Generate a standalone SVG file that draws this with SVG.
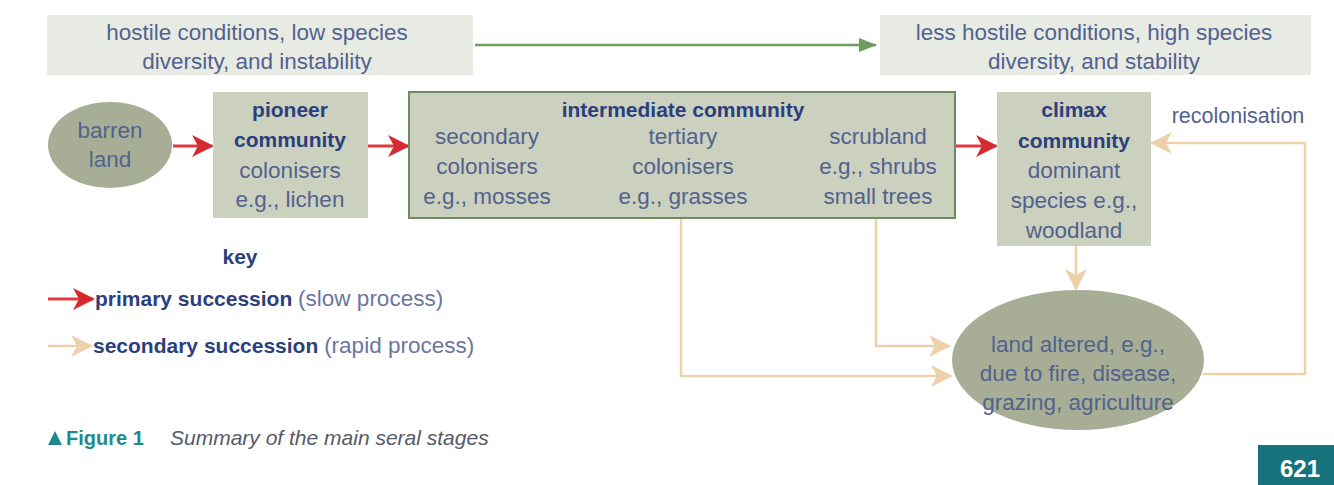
<svg xmlns="http://www.w3.org/2000/svg" width="1334" height="485" viewBox="0 0 1334 485">
<defs>
<style>
.t{font-family:"Liberation Sans",Arial,sans-serif;font-size:22.5px;fill:#52628e;text-anchor:middle}
.b{font-family:"Liberation Sans",Arial,sans-serif;font-size:21px;font-weight:bold;fill:#2b3f7c;text-anchor:middle}
.n{font-weight:normal;fill:#6a76a0;font-size:22.5px}
.box{fill:#ccd0bf}
.top{fill:#e8ebe3}
.red{stroke:#e03a3e;stroke-width:3;fill:none}
.tan{stroke:#ecd1ab;stroke-width:2.5;fill:none}
.grn{stroke:#6e9c5e;stroke-width:2.5;fill:none}
</style>
<marker id="mr" viewBox="0 0 22 22" refX="20" refY="11" markerWidth="22" markerHeight="22" markerUnits="userSpaceOnUse" orient="auto">
<path d="M0,0 L22,11 L0,22 L6,11 Z" fill="#d42a30"/>
</marker>
<marker id="mt" viewBox="0 0 22 22" refX="20" refY="11" markerWidth="22" markerHeight="22" markerUnits="userSpaceOnUse" orient="auto">
<path d="M0,0 L22,11 L0,22 L6,11 Z" fill="#ecd1ab"/>
</marker>
<marker id="mg" viewBox="0 0 18 14" refX="17" refY="7" markerWidth="18" markerHeight="14" markerUnits="userSpaceOnUse" orient="auto">
<path d="M0,0 L18,7 L0,14 Z" fill="#6e9c5e"/>
</marker>
</defs>
<rect width="1334" height="485" fill="#ffffff"/>

<g id="connectors">
<line class="grn" x1="475" y1="45" x2="876" y2="45" marker-end="url(#mg)"/>
<line class="red" x1="173" y1="146" x2="212" y2="146" marker-end="url(#mr)"/>
<line class="red" x1="368" y1="146" x2="408" y2="146" marker-end="url(#mr)"/>
<line class="red" x1="956" y1="146" x2="996" y2="146" marker-end="url(#mr)"/>
<line class="tan" x1="1076" y1="246" x2="1076" y2="289" marker-end="url(#mt)"/>
<polyline class="tan" points="681,219 681,376 951,376" marker-end="url(#mt)"/>
<polyline class="tan" points="876,219 876,346 949,346" marker-end="url(#mt)"/>
<polyline class="tan" points="1203,374 1305,374 1305,143 1152,143" marker-end="url(#mt)"/>
</g>

<g id="top-left">
<rect class="top" x="47" y="15" width="426" height="60"/>
<text class="t" x="257" y="40">hostile conditions, low species</text>
<text class="t" x="257" y="69">diversity, and instability</text>
</g>
<g id="top-right">
<rect class="top" x="880" y="15" width="431" height="60"/>
<text class="t" x="1094" y="40">less hostile conditions, high species</text>
<text class="t" x="1094" y="69">diversity, and stability</text>
</g>

<g id="barren-land">
<ellipse cx="110" cy="145" rx="62" ry="43" fill="#a8ae95"/>
<text class="t" x="110" y="138">barren</text>
<text class="t" x="110" y="167">land</text>
</g>

<g id="pioneer">
<rect class="box" x="213" y="92" width="155" height="126"/>
<text class="b" x="290" y="117">pioneer</text>
<text class="b" x="290" y="147">community</text>
<text class="t" x="290" y="178">colonisers</text>
<text class="t" x="290" y="207">e.g., lichen</text>
</g>

<g id="intermediate">
<rect class="box" x="409" y="92" width="546" height="126" stroke="#6f8a5f" stroke-width="2"/>
<text class="b" x="683" y="117">intermediate community</text>
<text class="t" x="487" y="144">secondary</text>
<text class="t" x="487" y="174">colonisers</text>
<text class="t" x="487" y="204">e.g., mosses</text>
<text class="t" x="683" y="144">tertiary</text>
<text class="t" x="683" y="174">colonisers</text>
<text class="t" x="683" y="204">e.g., grasses</text>
<text class="t" x="878" y="144">scrubland</text>
<text class="t" x="878" y="174">e.g., shrubs</text>
<text class="t" x="878" y="204">small trees</text>
</g>

<g id="climax">
<rect class="box" x="997" y="92" width="154" height="154"/>
<text class="b" x="1074" y="117">climax</text>
<text class="b" x="1074" y="148">community</text>
<text class="t" x="1074" y="178">dominant</text>
<text class="t" x="1074" y="208">species e.g.,</text>
<text class="t" x="1074" y="238">woodland</text>
</g>

<g id="recolonisation-label">
<text class="t" x="1238" y="123" style="font-size:21.5px">recolonisation</text>
</g>

<g id="land-altered">
<ellipse cx="1078" cy="360" rx="126" ry="70" fill="#a8ae95"/>
<text class="t" x="1078" y="352">land altered, e.g.,</text>
<text class="t" x="1078" y="381">due to fire, disease,</text>
<text class="t" x="1078" y="410">grazing, agriculture</text>
</g>

<g id="key">
<text class="b" x="240" y="264">key</text>
<line class="red" x1="48" y1="299" x2="93" y2="299" marker-end="url(#mr)"/>
<text class="b" x="95" y="306" style="text-anchor:start">primary succession <tspan class="n">(slow process)</tspan></text>
<line class="tan" x1="48" y1="346" x2="91" y2="346" marker-end="url(#mt)"/>
<text class="b" x="93" y="353" style="text-anchor:start">secondary succession <tspan class="n">(rapid process)</tspan></text>
</g>

<g id="caption">
<polygon points="48,445 55,431 62,445" fill="#1f8a8e"/>
<text x="66" y="445" style="font-family:'Liberation Sans',Arial,sans-serif;font-size:20px;font-weight:bold;fill:#1f8a8e">Figure 1</text>
<text x="170" y="445" style="font-family:'Liberation Sans',Arial,sans-serif;font-size:21px;font-style:italic;fill:#555b6a">Summary of the main seral stages</text>
</g>

<g id="page-number">
<rect x="1258" y="445" width="76" height="40" fill="#17737b"/>
<text x="1300" y="477" style="font-family:'Liberation Sans',Arial,sans-serif;font-size:24px;font-weight:bold;fill:#ffffff;text-anchor:middle">621</text>
</g>
</svg>
